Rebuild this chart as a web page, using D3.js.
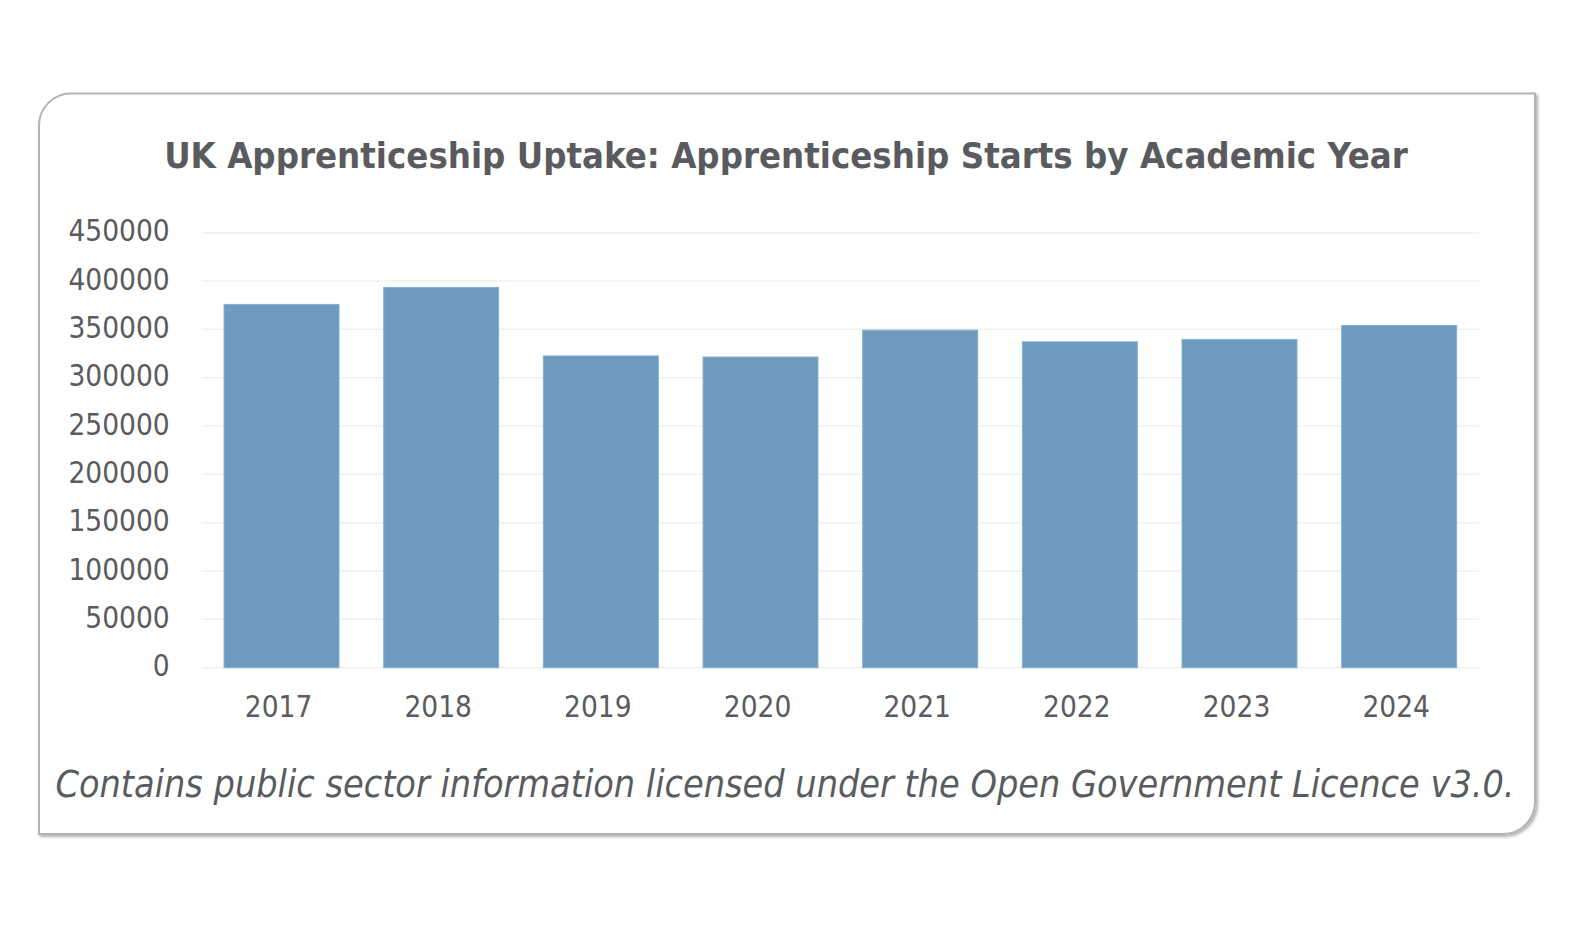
<!DOCTYPE html>
<html>
<head>
<meta charset="utf-8">
<script src="https://cdn.jsdelivr.net/npm/d3@7"></script>
<style>
    body { margin: 0; background: #fff; }
    svg text { font-family: "DejaVu Sans Condensed", "DejaVu Sans", sans-serif; font-stretch: condensed; }
</style>
</head>
<body>
<svg id="chart" width="1581" height="928"></svg>
<script>
var years = ['2017', '2018', '2019', '2020', '2021', '2022', '2023', '2024'],
    starts = [375800, 393400, 322500, 321400, 349200, 337100, 339600, 354000],
    yTicks = [0, 50000, 100000, 150000, 200000, 250000, 300000, 350000, 400000, 450000],
    title = 'UK Apprenticeship Uptake: Apprenticeship Starts by Academic Year',
    footer = 'Contains public sector information licensed under the Open Government Licence v3.0.';

var svg = d3.select('#chart'),
    textColor = '#595b5e',
    frame = { left: 39, top: 93.5, right: 1535, bottom: 834, r: 32 },
    plot = { left: 201.7, right: 1479, top: 232.7, bottom: 667.7 };

// drop shadow for the card
var defs = svg.append('defs');
var shadow = defs.append('filter')
    .attr('id', 'shadow')
    .attr('x', '-5%').attr('y', '-5%')
    .attr('width', '110%').attr('height', '110%');
shadow.append('feDropShadow')
    .attr('dx', 2).attr('dy', 2)
    .attr('stdDeviation', 1.5)
    .attr('flood-color', '#000')
    .attr('flood-opacity', 0.3);

// frame: rounded top-left and bottom-right corners
var f = frame,
    framePath = 'M' + f.left + ',' + (f.top + f.r) +
        ' A' + f.r + ',' + f.r + ' 0 0 1 ' + (f.left + f.r) + ',' + f.top +
        ' L' + f.right + ',' + f.top +
        ' L' + f.right + ',' + (f.bottom - f.r) +
        ' A' + f.r + ',' + f.r + ' 0 0 1 ' + (f.right - f.r) + ',' + f.bottom +
        ' L' + f.left + ',' + f.bottom + ' Z';

svg.append('path')
    .attr('d', framePath)
    .attr('fill', '#fff')
    .attr('stroke', '#b3b3b3')
    .attr('stroke-width', 2)
    .attr('filter', 'url(#shadow)');

var x = d3.scaleBand()
    .domain(years)
    .range([plot.left, plot.right])
    .paddingInner(0.28)
    .paddingOuter(0.14);

var y = d3.scaleLinear()
    .domain([0, 450000])
    .range([plot.bottom, plot.top]);

// gridlines
svg.append('g')
    .selectAll('line')
    .data(yTicks)
    .join('line')
    .attr('x1', plot.left)
    .attr('x2', plot.right)
    .attr('y1', function (d) { return y(d); })
    .attr('y2', function (d) { return y(d); })
    .attr('stroke', '#f0f0f0')
    .attr('stroke-width', 1.5);

// y axis
var yAxis = svg.append('g')
    .attr('transform', 'translate(' + (plot.left - 32) + ',0)')
    .call(d3.axisLeft(y).tickValues(yTicks).tickFormat(d3.format('d')).tickSize(0).tickPadding(0));
yAxis.select('.domain').remove();
yAxis.selectAll('text')
    .attr('fill', textColor)
    .style('font-size', '29.5px')
    .attr('dy', '0.28em');

// x axis
var xAxis = svg.append('g')
    .attr('transform', 'translate(0,' + plot.bottom + ')')
    .call(d3.axisBottom(x).tickSize(0).tickPadding(0));
xAxis.select('.domain').remove();
xAxis.selectAll('text')
    .attr('fill', textColor)
    .style('font-size', '29.5px')
    .attr('y', 49)
    .attr('dy', 0)
    .attr('dx', -3);

// bars
svg.append('g')
    .selectAll('rect')
    .data(starts)
    .join('rect')
    .attr('x', function (d, i) { return x(years[i]); })
    .attr('y', function (d) { return y(d); })
    .attr('width', x.bandwidth())
    .attr('height', function (d) { return y(0) - y(d); })
    .attr('fill', '#6e9abd')
    .attr('stroke', '#7fb2cf')
    .attr('stroke-width', 1);

// title
svg.append('text')
    .attr('x', 786)
    .attr('y', 168)
    .attr('text-anchor', 'middle')
    .attr('fill', textColor)
    .style('font-size', '36.2px')
    .style('font-weight', 'bold')
    .text(title);

// footer
svg.append('text')
    .attr('x', 785)
    .attr('y', 797)
    .attr('text-anchor', 'middle')
    .attr('fill', textColor)
    .style('font-size', '37.4px')
    .style('font-style', 'italic')
    .text(footer);
</script>
</body>
</html>
